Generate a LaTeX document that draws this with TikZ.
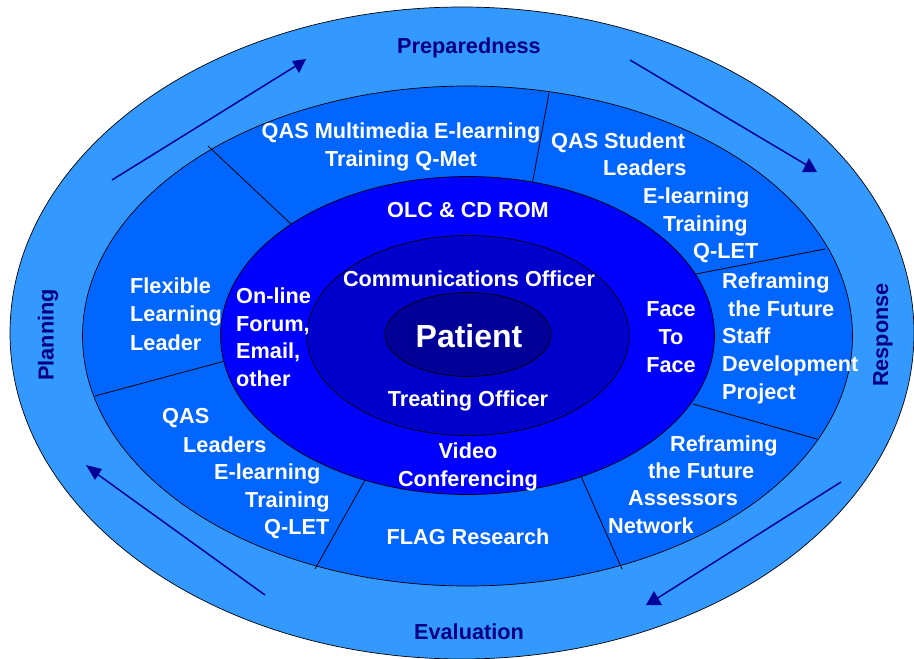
\documentclass[tikz,border=0pt]{standalone}
\usepackage{fontspec}
\setmainfont{Liberation Sans}
\definecolor{ringOuter}{HTML}{3399FF}
\definecolor{ringMid}{HTML}{0066FF}
\definecolor{ringChan}{HTML}{0000FF}
\definecolor{ringRole}{HTML}{0000CC}
\definecolor{ringCore}{HTML}{000099}
\definecolor{cycleInk}{HTML}{000080}
\definecolor{arrowInk}{HTML}{000099}
\begin{document}
\begin{tikzpicture}[x=1pt,y=-1pt,
  ring/.style={draw=black,line width=0.7pt},
  divider/.style={draw=black,line width=0.8pt},
  cycleline/.style={draw=arrowInk,line width=1.5pt},
  cyclehead/.style={fill=arrowInk},
  wlbl/.style={text=white,font=\bfseries\fontsize{21.7}{27.7}\selectfont,inner sep=0pt},
  wl/.style={wlbl,anchor=base west},
  wc/.style={wlbl,anchor=base},
  cyc/.style={text=cycleInk,font=\bfseries\fontsize{21.7}{27.7}\selectfont,inner sep=0pt}]
\useasboundingbox (0,0) rectangle (914,659);

% rings, outside in
\fill[ringOuter] (462,333) ellipse [x radius=452pt, y radius=326pt];
\draw[ring] (462,333) ellipse [x radius=452pt, y radius=326pt];
\fill[ringMid] (467.5,336) ellipse [x radius=385pt, y radius=250pt];
\draw[ring] (467.5,336) ellipse [x radius=385pt, y radius=250pt];

% dividers between the projects of the middle ring
\coordinate (d1a) at (208,146); \coordinate (d1b) at (292,225);
\coordinate (d2a) at (549,93);  \coordinate (d2b) at (532,185);
\coordinate (d3a) at (825,249); \coordinate (d3b) at (696,274);
\coordinate (d4a) at (817,439); \coordinate (d4b) at (693,404);
\coordinate (d5a) at (622,569); \coordinate (d5b) at (580,474);
\coordinate (d6a) at (315,569); \coordinate (d6b) at (365,480);
\coordinate (d7a) at (95,396);  \coordinate (d7b) at (225,361);
\foreach \n in {1,...,7} \draw[divider] (d\n a) -- (d\n b);

\fill[ringChan] (467.5,335.5) ellipse [x radius=247pt, y radius=159pt];
\draw[ring] (467.5,335.5) ellipse [x radius=247pt, y radius=159pt];
\fill[ringRole] (468,335.5) ellipse [x radius=161pt, y radius=100pt];
\draw[ring] (468,335.5) ellipse [x radius=161pt, y radius=100pt];
\fill[ringCore] (468,334.5) ellipse [x radius=83pt, y radius=42pt];
\draw[ring] (468,334.5) ellipse [x radius=83pt, y radius=42pt];

% cycle arrows in the outer ring: shaft plus triangular head
\coordinate (a1s) at (112,180); \coordinate (a1e) at (299,64);
\coordinate (a2s) at (630,60);  \coordinate (a2e) at (810,167);
\coordinate (a3s) at (841,482); \coordinate (a3e) at (653,601);
\coordinate (a4s) at (265,595); \coordinate (a4e) at (93,471);
\foreach \n in {1,...,4} \draw[cycleline] (a\n s) -- (a\n e);
\fill[cyclehead] (292,61) -- (306,59) -- (299,73) -- cycle;
\fill[cyclehead] (802,172) -- (817,172) -- (809,158) -- cycle;
\fill[cyclehead] (646,605) -- (662,605) -- (654,591) -- cycle;
\fill[cyclehead] (86,465) -- (102,469) -- (95,480) -- cycle;

% cycle stages
\node[cyc,anchor=base] (prep) at (469,53) {Preparedness};
\node[cyc,anchor=base] (eval) at (469,639) {Evaluation};
\node[cyc,rotate=90] (plan) at (48,335) {Planning};
\node[cyc,rotate=90] (resp) at (883,335) {Response};

% middle ring projects
\node[wc] (qmm1) at (401,138) {QAS Multimedia E-learning};
\node[wc] (qmm2) at (401,166) {Training Q-Met};

\node[wl] (qsl1) at (551,148) {QAS Student};
\node[wl] (qsl2) at (603,175) {Leaders};
\node[wl] (qsl3) at (643,203) {E-learning};
\node[wl] (qsl4) at (663,231) {Training};
\node[wl] (qsl5) at (693,258) {Q-LET};

\node[wl] (rfs1) at (722,288) {Reframing};
\node[wl] (rfs2) at (728,316) {the Future};
\node[wl] (rfs3) at (722,343) {Staff};
\node[wl] (rfs4) at (722,371) {Development};
\node[wl] (rfs5) at (722,399) {Project};

\node[wl] (rfa1) at (670,451) {Reframing};
\node[wl] (rfa2) at (648,478) {the Future};
\node[wl] (rfa3) at (628,505) {Assessors};
\node[wl] (rfa4) at (608,533) {Network};

\node[wc] (flag) at (468,544) {FLAG Research};

\node[wl] (qld1) at (162,423) {QAS};
\node[wl] (qld2) at (183,452) {Leaders};
\node[wl] (qld3) at (214,479) {E-learning};
\node[wl] (qld4) at (245,507) {Training};
\node[wl] (qld5) at (264,534) {Q-LET};

\node[wl] (flx1) at (130,293) {Flexible};
\node[wl] (flx2) at (130,321) {Learning};
\node[wl] (flx3) at (130,350) {Leader};

% delivery channels
\node[wc] (olc) at (468,217) {OLC \& CD ROM};
\node[wc] (f2f1) at (671,316) {Face};
\node[wc] (f2f2) at (671,344) {To};
\node[wc] (f2f3) at (671,372) {Face};
\node[wc] (vid1) at (468,458) {Video};
\node[wc] (vid2) at (468,486) {Conferencing};
\node[wl] (onl1) at (236,303) {On-line};
\node[wl] (onl2) at (236,331) {Forum,};
\node[wl] (onl3) at (236,358) {Email,};
\node[wl] (onl4) at (236,386) {other};

% officers and patient
\node[wc] (comm) at (469,286) {Communications Officer};
\node[wc] (treat) at (468,406) {Treating Officer};
\node[wlbl,anchor=base,font=\bfseries\fontsize{32}{38}\selectfont] (patient) at (469,347) {Patient};
\end{tikzpicture}
\end{document}
